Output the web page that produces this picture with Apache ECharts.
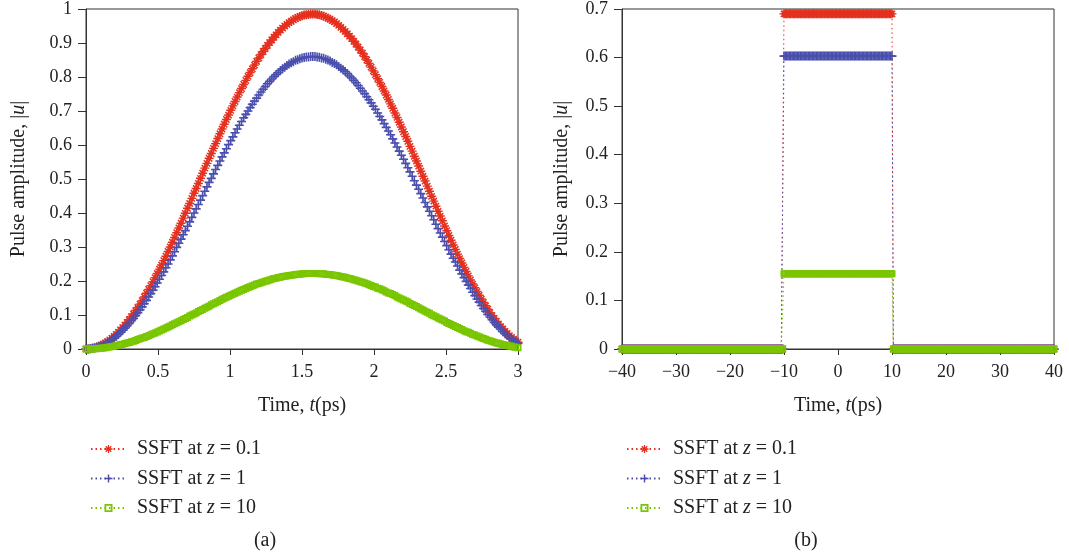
<!DOCTYPE html>
<html>
<head>
<meta charset="utf-8">
<script src="https://cdn.jsdelivr.net/npm/echarts@6/dist/echarts.min.js"></script>
<style>
  html, body { margin: 0; padding: 0; background: #fff; }
  #chart { width: 1069px; height: 558px; }
</style>
</head>
<body>
<div id="chart"></div>
<script>
// Panel (a): pulse amplitude over 0..3 ps
const timeA = [
  0,0.015,0.03,0.045,0.06,0.075,0.09,0.105,0.12,0.135,0.15,0.165,0.18,0.195,0.21,0.225,0.24,0.255,0.27,0.285,
  0.3,0.315,0.33,0.345,0.36,0.375,0.39,0.405,0.42,0.435,0.45,0.465,0.48,0.495,0.51,0.525,0.54,0.555,0.57,0.585,
  0.6,0.615,0.63,0.645,0.66,0.675,0.69,0.705,0.72,0.735,0.75,0.765,0.78,0.795,0.81,0.825,0.84,0.855,0.87,0.885,
  0.9,0.915,0.93,0.945,0.96,0.975,0.99,1.005,1.02,1.035,1.05,1.065,1.08,1.095,1.11,1.125,1.14,1.155,1.17,1.185,
  1.2,1.215,1.23,1.245,1.26,1.275,1.29,1.305,1.32,1.335,1.35,1.365,1.38,1.395,1.41,1.425,1.44,1.455,1.47,1.485,
  1.5,1.515,1.53,1.545,1.56,1.575,1.59,1.605,1.62,1.635,1.65,1.665,1.68,1.695,1.71,1.725,1.74,1.755,1.77,1.785,
  1.8,1.815,1.83,1.845,1.86,1.875,1.89,1.905,1.92,1.935,1.95,1.965,1.98,1.995,2.01,2.025,2.04,2.055,2.07,2.085,
  2.1,2.115,2.13,2.145,2.16,2.175,2.19,2.205,2.22,2.235,2.25,2.265,2.28,2.295,2.31,2.325,2.34,2.355,2.37,2.385,
  2.4,2.415,2.43,2.445,2.46,2.475,2.49,2.505,2.52,2.535,2.55,2.565,2.58,2.595,2.61,2.625,2.64,2.655,2.67,2.685,
  2.7,2.715,2.73,2.745,2.76,2.775,2.79,2.805,2.82,2.835,2.85,2.865,2.88,2.895,2.91,2.925,2.94,2.955,2.97,2.985,
  3];

const ampA_z01 = [
  0,0.000,0.001,0.002,0.004,0.006,0.008,0.011,0.014,0.018,0.022,0.027,0.032,0.037,0.043,0.049,0.056,0.063,0.070,0.078,
  0.086,0.095,0.103,0.113,0.122,0.132,0.142,0.153,0.164,0.175,0.186,0.198,0.210,0.222,0.235,0.247,0.260,0.273,0.287,0.300,
  0.314,0.328,0.342,0.356,0.370,0.385,0.399,0.414,0.428,0.443,0.458,0.472,0.487,0.502,0.517,0.532,0.546,0.561,0.575,0.590,
  0.604,0.619,0.633,0.647,0.661,0.675,0.688,0.702,0.715,0.728,0.741,0.754,0.766,0.778,0.790,0.802,0.813,0.824,0.835,0.846,
  0.856,0.866,0.875,0.884,0.893,0.901,0.909,0.917,0.924,0.931,0.938,0.944,0.950,0.955,0.960,0.964,0.968,0.972,0.975,0.978,
  0.980,0.982,0.983,0.984,0.985,0.985,0.985,0.984,0.983,0.981,0.979,0.976,0.973,0.970,0.966,0.962,0.957,0.952,0.946,0.940,
  0.934,0.927,0.920,0.913,0.905,0.897,0.888,0.879,0.870,0.860,0.850,0.840,0.829,0.818,0.807,0.795,0.784,0.772,0.759,0.747,
  0.734,0.721,0.708,0.694,0.681,0.667,0.653,0.639,0.625,0.611,0.596,0.582,0.567,0.553,0.538,0.523,0.508,0.494,0.479,0.464,
  0.449,0.435,0.420,0.405,0.391,0.377,0.362,0.348,0.334,0.320,0.306,0.293,0.279,0.266,0.253,0.240,0.228,0.215,0.203,0.191,
  0.180,0.169,0.158,0.147,0.137,0.127,0.117,0.107,0.098,0.090,0.081,0.073,0.066,0.059,0.052,0.046,0.039,0.034,0.029,0.024,
  0.020];

const ampA_z1 = [
  0,0.000,0.001,0.002,0.003,0.005,0.007,0.009,0.012,0.016,0.019,0.023,0.028,0.032,0.037,0.043,0.049,0.055,0.061,0.068,
  0.075,0.083,0.090,0.098,0.107,0.115,0.124,0.133,0.143,0.153,0.163,0.173,0.183,0.194,0.205,0.216,0.227,0.239,0.250,0.262,
  0.274,0.286,0.299,0.311,0.323,0.336,0.348,0.361,0.374,0.387,0.400,0.412,0.425,0.438,0.451,0.464,0.477,0.490,0.502,0.515,
  0.528,0.540,0.553,0.565,0.577,0.589,0.601,0.613,0.624,0.636,0.647,0.658,0.669,0.680,0.690,0.700,0.710,0.720,0.729,0.738,
  0.747,0.756,0.764,0.772,0.780,0.787,0.794,0.801,0.807,0.813,0.819,0.824,0.829,0.834,0.838,0.842,0.845,0.849,0.851,0.854,
  0.856,0.857,0.859,0.859,0.860,0.860,0.860,0.859,0.858,0.856,0.855,0.852,0.850,0.847,0.843,0.840,0.836,0.831,0.826,0.821,
  0.816,0.810,0.803,0.797,0.790,0.783,0.775,0.767,0.759,0.751,0.742,0.733,0.724,0.714,0.705,0.694,0.684,0.674,0.663,0.652,
  0.641,0.630,0.618,0.606,0.594,0.582,0.570,0.558,0.546,0.533,0.521,0.508,0.495,0.482,0.470,0.457,0.444,0.431,0.418,0.405,
  0.392,0.380,0.367,0.354,0.341,0.329,0.316,0.304,0.292,0.279,0.267,0.256,0.244,0.232,0.221,0.210,0.199,0.188,0.178,0.167,
  0.157,0.147,0.138,0.128,0.119,0.111,0.102,0.094,0.086,0.078,0.071,0.064,0.058,0.051,0.045,0.040,0.034,0.030,0.025,0.021,
  0.017];

const ampA_z10 = [
  0,0.000,0,0.000,0.001,0.001,0.002,0.002,0.003,0.004,0.005,0.006,0.007,0.008,0.010,0.011,0.013,0.014,0.016,0.018,
  0.019,0.021,0.023,0.025,0.028,0.030,0.032,0.034,0.037,0.039,0.042,0.045,0.047,0.050,0.053,0.056,0.059,0.062,0.065,0.068,
  0.071,0.074,0.077,0.080,0.083,0.087,0.090,0.093,0.097,0.100,0.103,0.106,0.110,0.113,0.116,0.120,0.123,0.126,0.130,0.133,
  0.136,0.139,0.143,0.146,0.149,0.152,0.155,0.158,0.161,0.164,0.167,0.170,0.173,0.175,0.178,0.181,0.183,0.186,0.188,0.191,
  0.193,0.195,0.197,0.199,0.201,0.203,0.205,0.207,0.208,0.210,0.211,0.213,0.214,0.215,0.216,0.217,0.218,0.219,0.220,0.220,
  0.221,0.221,0.222,0.222,0.222,0.222,0.222,0.222,0.221,0.221,0.221,0.220,0.219,0.219,0.218,0.217,0.216,0.215,0.213,0.212,
  0.211,0.209,0.207,0.206,0.204,0.202,0.200,0.198,0.196,0.194,0.192,0.189,0.187,0.184,0.182,0.179,0.177,0.174,0.171,0.168,
  0.165,0.163,0.160,0.157,0.153,0.150,0.147,0.144,0.141,0.138,0.134,0.131,0.128,0.125,0.121,0.118,0.115,0.111,0.108,0.105,
  0.101,0.098,0.095,0.091,0.088,0.085,0.082,0.078,0.075,0.072,0.069,0.066,0.063,0.060,0.057,0.054,0.051,0.049,0.046,0.043,
  0.041,0.038,0.036,0.033,0.031,0.029,0.026,0.024,0.022,0.020,0.018,0.017,0.015,0.013,0.012,0.010,0.009,0.008,0.006,0.005,
  0.004];

// Panel (b): rectangular pulse over -40..40 ps
const timeB = [
  -40,-39.75,-39.5,-39.25,-39,-38.75,-38.5,-38.25,-38,-37.75,-37.5,-37.25,-37,-36.75,-36.5,-36.25,-36,-35.75,-35.5,-35.25,
  -35,-34.75,-34.5,-34.25,-34,-33.75,-33.5,-33.25,-33,-32.75,-32.5,-32.25,-32,-31.75,-31.5,-31.25,-31,-30.75,-30.5,-30.25,
  -30,-29.75,-29.5,-29.25,-29,-28.75,-28.5,-28.25,-28,-27.75,-27.5,-27.25,-27,-26.75,-26.5,-26.25,-26,-25.75,-25.5,-25.25,
  -25,-24.75,-24.5,-24.25,-24,-23.75,-23.5,-23.25,-23,-22.75,-22.5,-22.25,-22,-21.75,-21.5,-21.25,-21,-20.75,-20.5,-20.25,
  -20,-19.75,-19.5,-19.25,-19,-18.75,-18.5,-18.25,-18,-17.75,-17.5,-17.25,-17,-16.75,-16.5,-16.25,-16,-15.75,-15.5,-15.25,
  -15,-14.75,-14.5,-14.25,-14,-13.75,-13.5,-13.25,-13,-12.75,-12.5,-12.25,-12,-11.75,-11.5,-11.25,-11,-10.75,-10.5,-10.25,
  -10,-9.75,-9.5,-9.25,-9,-8.75,-8.5,-8.25,-8,-7.75,-7.5,-7.25,-7,-6.75,-6.5,-6.25,-6,-5.75,-5.5,-5.25,
  -5,-4.75,-4.5,-4.25,-4,-3.75,-3.5,-3.25,-3,-2.75,-2.5,-2.25,-2,-1.75,-1.5,-1.25,-1,-0.75,-0.5,-0.25,
  0,0.25,0.5,0.75,1,1.25,1.5,1.75,2,2.25,2.5,2.75,3,3.25,3.5,3.75,4,4.25,4.5,4.75,
  5,5.25,5.5,5.75,6,6.25,6.5,6.75,7,7.25,7.5,7.75,8,8.25,8.5,8.75,9,9.25,9.5,9.75,
  10,
  10.25,10.5,10.75,11,11.25,11.5,11.75,12,12.25,12.5,12.75,13,13.25,13.5,13.75,14,14.25,14.5,14.75,15,
  15.25,15.5,15.75,16,16.25,16.5,16.75,17,17.25,17.5,17.75,18,18.25,18.5,18.75,19,19.25,19.5,19.75,20,
  20.25,20.5,20.75,21,21.25,21.5,21.75,22,22.25,22.5,22.75,23,23.25,23.5,23.75,24,24.25,24.5,24.75,25,
  25.25,25.5,25.75,26,26.25,26.5,26.75,27,27.25,27.5,27.75,28,28.25,28.5,28.75,29,29.25,29.5,29.75,30,
  30.25,30.5,30.75,31,31.25,31.5,31.75,32,32.25,32.5,32.75,33,33.25,33.5,33.75,34,34.25,34.5,34.75,35,
  35.25,35.5,35.75,36,36.25,36.5,36.75,37,37.25,37.5,37.75,38,38.25,38.5,38.75,39,39.25,39.5,39.75,40];

const ampB_z01 = [
  0,0,0,0,0,0,0,0,0,0,0,0,0,0,0,0,0,0,0,0,
  0,0,0,0,0,0,0,0,0,0,0,0,0,0,0,0,0,0,0,0,
  0,0,0,0,0,0,0,0,0,0,0,0,0,0,0,0,0,0,0,0,
  0,0,0,0,0,0,0,0,0,0,0,0,0,0,0,0,0,0,0,0,
  0,0,0,0,0,0,0,0,0,0,0,0,0,0,0,0,0,0,0,0,
  0,0,0,0,0,0,0,0,0,0,0,0,0,0,0,0,0,0,0,0,
  0.69,0.69,0.69,0.69,0.69,0.69,0.69,0.69,0.69,0.69,0.69,0.69,0.69,0.69,0.69,0.69,0.69,0.69,0.69,0.69,
  0.69,0.69,0.69,0.69,0.69,0.69,0.69,0.69,0.69,0.69,0.69,0.69,0.69,0.69,0.69,0.69,0.69,0.69,0.69,0.69,
  0.69,0.69,0.69,0.69,0.69,0.69,0.69,0.69,0.69,0.69,0.69,0.69,0.69,0.69,0.69,0.69,0.69,0.69,0.69,0.69,
  0.69,0.69,0.69,0.69,0.69,0.69,0.69,0.69,0.69,0.69,0.69,0.69,0.69,0.69,0.69,0.69,0.69,0.69,0.69,0.69,
  0.69,
  0,0,0,0,0,0,0,0,0,0,0,0,0,0,0,0,0,0,0,0,
  0,0,0,0,0,0,0,0,0,0,0,0,0,0,0,0,0,0,0,0,
  0,0,0,0,0,0,0,0,0,0,0,0,0,0,0,0,0,0,0,0,
  0,0,0,0,0,0,0,0,0,0,0,0,0,0,0,0,0,0,0,0,
  0,0,0,0,0,0,0,0,0,0,0,0,0,0,0,0,0,0,0,0,
  0,0,0,0,0,0,0,0,0,0,0,0,0,0,0,0,0,0,0,0];

const ampB_z1 = [
  0,0,0,0,0,0,0,0,0,0,0,0,0,0,0,0,0,0,0,0,
  0,0,0,0,0,0,0,0,0,0,0,0,0,0,0,0,0,0,0,0,
  0,0,0,0,0,0,0,0,0,0,0,0,0,0,0,0,0,0,0,0,
  0,0,0,0,0,0,0,0,0,0,0,0,0,0,0,0,0,0,0,0,
  0,0,0,0,0,0,0,0,0,0,0,0,0,0,0,0,0,0,0,0,
  0,0,0,0,0,0,0,0,0,0,0,0,0,0,0,0,0,0,0,0,
  0.603,0.603,0.603,0.603,0.603,0.603,0.603,0.603,0.603,0.603,0.603,0.603,0.603,0.603,0.603,0.603,0.603,0.603,0.603,0.603,
  0.603,0.603,0.603,0.603,0.603,0.603,0.603,0.603,0.603,0.603,0.603,0.603,0.603,0.603,0.603,0.603,0.603,0.603,0.603,0.603,
  0.603,0.603,0.603,0.603,0.603,0.603,0.603,0.603,0.603,0.603,0.603,0.603,0.603,0.603,0.603,0.603,0.603,0.603,0.603,0.603,
  0.603,0.603,0.603,0.603,0.603,0.603,0.603,0.603,0.603,0.603,0.603,0.603,0.603,0.603,0.603,0.603,0.603,0.603,0.603,0.603,
  0.603,
  0,0,0,0,0,0,0,0,0,0,0,0,0,0,0,0,0,0,0,0,
  0,0,0,0,0,0,0,0,0,0,0,0,0,0,0,0,0,0,0,0,
  0,0,0,0,0,0,0,0,0,0,0,0,0,0,0,0,0,0,0,0,
  0,0,0,0,0,0,0,0,0,0,0,0,0,0,0,0,0,0,0,0,
  0,0,0,0,0,0,0,0,0,0,0,0,0,0,0,0,0,0,0,0,
  0,0,0,0,0,0,0,0,0,0,0,0,0,0,0,0,0,0,0,0];

const ampB_z10 = [
  0,0,0,0,0,0,0,0,0,0,0,0,0,0,0,0,0,0,0,0,
  0,0,0,0,0,0,0,0,0,0,0,0,0,0,0,0,0,0,0,0,
  0,0,0,0,0,0,0,0,0,0,0,0,0,0,0,0,0,0,0,0,
  0,0,0,0,0,0,0,0,0,0,0,0,0,0,0,0,0,0,0,0,
  0,0,0,0,0,0,0,0,0,0,0,0,0,0,0,0,0,0,0,0,
  0,0,0,0,0,0,0,0,0,0,0,0,0,0,0,0,0,0,0,0,
  0.155,0.155,0.155,0.155,0.155,0.155,0.155,0.155,0.155,0.155,0.155,0.155,0.155,0.155,0.155,0.155,0.155,0.155,0.155,0.155,
  0.155,0.155,0.155,0.155,0.155,0.155,0.155,0.155,0.155,0.155,0.155,0.155,0.155,0.155,0.155,0.155,0.155,0.155,0.155,0.155,
  0.155,0.155,0.155,0.155,0.155,0.155,0.155,0.155,0.155,0.155,0.155,0.155,0.155,0.155,0.155,0.155,0.155,0.155,0.155,0.155,
  0.155,0.155,0.155,0.155,0.155,0.155,0.155,0.155,0.155,0.155,0.155,0.155,0.155,0.155,0.155,0.155,0.155,0.155,0.155,0.155,
  0.155,
  0,0,0,0,0,0,0,0,0,0,0,0,0,0,0,0,0,0,0,0,
  0,0,0,0,0,0,0,0,0,0,0,0,0,0,0,0,0,0,0,0,
  0,0,0,0,0,0,0,0,0,0,0,0,0,0,0,0,0,0,0,0,
  0,0,0,0,0,0,0,0,0,0,0,0,0,0,0,0,0,0,0,0,
  0,0,0,0,0,0,0,0,0,0,0,0,0,0,0,0,0,0,0,0,
  0,0,0,0,0,0,0,0,0,0,0,0,0,0,0,0,0,0,0,0];

const seriesNames = ['SSFT at z = 0.1', 'SSFT at z = 1', 'SSFT at z = 10'];
const seriesColors = ['#e5301f', '#4a4fae', '#79c600'];
const ticksXA = [0, 3, 0.5];     // min, max, interval
const ticksXB = [-40, 40, 10];
const ticksYA = [0, 1, 0.1];
const ticksYB = [0, 0.7, 0.1];

// Marker shapes: asterisk, plus, hollow square
const SYM_STAR = 'path://M4.2,0L5.8,0L5.8,10L4.2,10Z M0,4.2L10,4.2L10,5.8L0,5.8Z M0.93,2.07L2.07,0.93L9.07,7.93L7.93,9.07Z M7.93,0.93L9.07,2.07L2.07,9.07L0.93,7.93Z';
const SYM_PLUS = 'path://M4.1,0L5.9,0L5.9,10L4.1,10Z M0,4.1L10,4.1L10,5.9L0,5.9Z';
const SYM_SQ = 'path://M0,0L10,0L10,10L0,10Z M2.2,2.2L2.2,7.8L7.8,7.8L7.8,2.2Z';
const symbols = [SYM_STAR, SYM_PLUS, SYM_SQ];
const symbolSizes = [9, 9, 7];

const FONT = '"Liberation Serif", "DejaVu Serif", serif';
const AXIS_COLOR = '#333';
const TEXT_COLOR = '#222';

function pairs(xs, ys) { return xs.map((x, i) => [x, ys[i]]); }
function minusSign(v) { return String(v).replace('-', '\u2212'); }

function makeSeries(gridIdx, xs, ysList) {
  return ysList.map((ys, k) => ({
    name: seriesNames[k],
    type: 'line',
    xAxisIndex: gridIdx,
    yAxisIndex: gridIdx,
    data: pairs(xs, ys),
    symbol: symbols[k],
    symbolSize: symbolSizes[k],
    showAllSymbol: true,
    clip: false,
    lineStyle: { color: seriesColors[k], width: 1, type: [1.5, 3] },
    itemStyle: { color: seriesColors[k] },
    emphasis: { disabled: true },
    z: 2 + k
  }));
}

const italic = { fontFamily: FONT, fontStyle: 'italic', fontSize: 20, color: TEXT_COLOR };

function xAxisCfg(gridIdx, t, fmt) {
  return {
    type: 'value', gridIndex: gridIdx, min: t[0], max: t[1], interval: t[2],
    name: 'Time, {i|t}(ps)', nameLocation: 'middle', nameGap: 47,
    nameTextStyle: { fontFamily: FONT, fontSize: 20, color: TEXT_COLOR, rich: { i: italic } },
    axisLine: { show: true, onZero: false, lineStyle: { color: AXIS_COLOR, width: 1 } },
    axisTick: { show: true, inside: false, length: 6, lineStyle: { color: AXIS_COLOR } },
    axisLabel: { fontFamily: FONT, fontSize: 18, color: TEXT_COLOR, margin: 14, formatter: fmt },
    splitLine: { show: false }
  };
}

function yAxisCfg(gridIdx, t, gap) {
  return {
    type: 'value', gridIndex: gridIdx, min: t[0], max: t[1], interval: t[2],
    name: 'Pulse amplitude, |{i|u}|', nameLocation: 'middle', nameGap: gap,
    nameTextStyle: { fontFamily: FONT, fontSize: 20, color: TEXT_COLOR, rich: { i: italic } },
    axisLine: { show: true, onZero: false, lineStyle: { color: AXIS_COLOR, width: 1 } },
    axisTick: { show: true, inside: false, length: 8, lineStyle: { color: AXIS_COLOR } },
    axisLabel: { fontFamily: FONT, fontSize: 18, color: TEXT_COLOR, margin: 14 },
    splitLine: { show: false }
  };
}

function legendCfg(left) {
  return {
    orient: 'vertical', left: left, top: 433,
    itemWidth: 35, itemHeight: 10, itemGap: 7.5,
    data: seriesNames,
    selectedMode: false,
    formatter: name => name.replace('z', '{i|z}'),
    textStyle: { fontFamily: FONT, fontSize: 20, color: TEXT_COLOR, lineHeight: 22, padding: [0, 0, 0, 6],
      rich: { i: Object.assign({ lineHeight: 22 }, italic) } }
  };
}

const chart = echarts.init(document.getElementById('chart'), null, { renderer: 'canvas' });
chart.setOption({
  animation: false,
  backgroundColor: '#fff',
  grid: [
    { left: 86, right: 551, top: 8, bottom: 209, show: true, borderColor: AXIS_COLOR, borderWidth: 1 },
    { left: 622, right: 15, top: 8, bottom: 209, show: true, borderColor: AXIS_COLOR, borderWidth: 1 }
  ],
  xAxis: [xAxisCfg(0, ticksXA), xAxisCfg(1, ticksXB, minusSign)],
  yAxis: [yAxisCfg(0, ticksYA, 57), yAxisCfg(1, ticksYB, 50)],
  legend: [legendCfg(85), legendCfg(621)],
  series: [].concat(
    makeSeries(0, timeA, [ampA_z01, ampA_z1, ampA_z10]),
    makeSeries(1, timeB, [ampB_z01, ampB_z1, ampB_z10])
  ),
  graphic: [
    { type: 'text', x: 265, y: 541, style: { text: '(a)', font: '20px ' + FONT, fill: TEXT_COLOR, align: 'center', verticalAlign: 'middle', textAlign: 'center', textVerticalAlign: 'middle' } },
    { type: 'text', x: 806, y: 541, style: { text: '(b)', font: '20px ' + FONT, fill: TEXT_COLOR, align: 'center', verticalAlign: 'middle', textAlign: 'center', textVerticalAlign: 'middle' } }
  ]
});
</script>
</body>
</html>
